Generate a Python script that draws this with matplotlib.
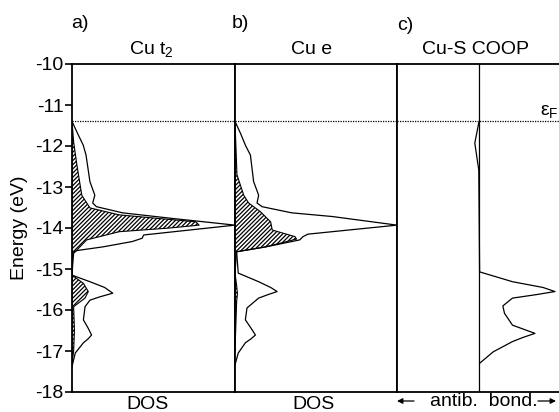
import numpy as np
import matplotlib
matplotlib.use("Agg")
import matplotlib.pyplot as plt

plt.rcParams['font.family'] = ['Liberation Sans', 'DejaVu Sans']
plt.rcParams['mathtext.fontset'] = 'custom'
plt.rcParams['mathtext.rm'] = 'Liberation Sans'
plt.rcParams['mathtext.it'] = 'Liberation Sans:italic'
plt.rcParams['hatch.linewidth'] = 0.9

# energy levels (eV) and curves
e_fermi = -11.4

# panel a: total DOS and Cu t2 projection
a_tot_e = [-11.40, -11.70, -11.98, -12.22, -12.87, -13.20, -13.39, -13.48, -13.63, -13.76,
           -13.93, -14.17, -14.25, -14.33, -14.46, -14.55, -14.61, -15.15, -15.31, -15.45,
           -15.59, -15.68, -15.76, -15.92, -16.24, -16.45, -16.61, -16.70, -16.80, -17.05, -17.38]
a_tot_x = [0.0, 0.035, 0.069, 0.086, 0.11, 0.14, 0.127, 0.15, 0.31, 0.60,
           1.00, 0.44, 0.43, 0.37, 0.19, 0.03, 0.0, 0.0, 0.11, 0.20,
           0.25, 0.17, 0.11, 0.08, 0.07, 0.10, 0.12, 0.10, 0.07, 0.02, 0.0]
a_t2_e = [-11.40, -11.90, -12.46, -13.20, -13.51, -13.68, -13.85, -13.93, -14.00, -14.09,
          -14.29, -14.62, -15.15, -15.35, -15.55, -15.71, -15.92, -16.50, -17.00, -17.30]
a_t2_x = [0.0, 0.01, 0.03, 0.06, 0.11, 0.29, 0.76, 0.78, 0.60, 0.29,
          0.09, 0.01, 0.0, 0.07, 0.10, 0.08, 0.01, 0.015, 0.01, 0.0]

# panel b: total DOS and Cu e projection
b_tot_e = [-11.40, -11.70, -11.98, -12.22, -12.87, -13.20, -13.39, -13.48, -13.63, -13.72,
           -13.93, -14.15, -14.21, -14.29, -14.46, -14.58, -15.10, -15.31, -15.45, -15.55,
           -15.63, -15.71, -15.95, -16.24, -16.45, -16.61, -16.70, -16.80, -17.05, -17.34]
b_tot_x = [0.0, 0.035, 0.064, 0.095, 0.115, 0.146, 0.136, 0.167, 0.35, 0.60,
           1.00, 0.45, 0.42, 0.40, 0.19, 0.01, 0.02, 0.146, 0.22, 0.26,
           0.20, 0.146, 0.074, 0.064, 0.10, 0.126, 0.10, 0.064, 0.02, 0.0]
b_e_e = [-11.40, -12.05, -12.70, -13.20, -13.39, -13.60, -13.85, -14.05, -14.21, -14.27,
         -14.32, -14.46, -14.58, -15.10, -15.40, -15.60, -15.80, -17.00]
b_e_x = [0.0, 0.006, 0.012, 0.054, 0.084, 0.156, 0.22, 0.23, 0.37, 0.38,
         0.33, 0.19, 0.01, 0.0, 0.01, 0.015, 0.01, 0.0]

# panel c: Cu-S overlap population (negative = antibonding)
c_e = [-11.43, -11.93, -12.59, -15.07, -15.31, -15.45, -15.55, -15.63, -15.71, -15.90,
       -16.08, -16.37, -16.57, -16.67, -16.77, -17.02, -17.30]
c_x = [0.0, -0.05, 0.0, 0.01, 0.42, 0.80, 0.95, 0.70, 0.42, 0.30,
       0.32, 0.42, 0.70, 0.55, 0.42, 0.18, 0.01]

W, H = 559, 412
fs = 14
fig = plt.figure(figsize=(W / 100, H / 100), dpi=100)

left, bottom, top = 72, 392, 64
edges = [72, 235, 397, 559]
axes = []
for i in range(3):
    ax = fig.add_axes([edges[i] / W, 1 - bottom / H,
                       (edges[i + 1] - edges[i]) / W, (bottom - top) / H])
    ax.set_ylim(-18, -10)
    ax.set_xticks([])
    for s in ax.spines.values():
        s.set_linewidth(1.3)
    if i > 0:
        ax.tick_params(axis='y', left=False, labelleft=False)
    axes.append(ax)

ax_a, ax_b, ax_c = axes

ax_a.set_yticks(np.arange(-18, -9, 1))
ax_a.set_yticklabels([str(v) for v in range(-18, -9)], fontsize=fs)
ax_a.tick_params(axis='y', direction='out', length=5, width=1.2, pad=1)

# DOS panels
for ax, te, tx, pe, px in [(ax_a, a_tot_e, a_tot_x, a_t2_e, a_t2_x),
                           (ax_b, b_tot_e, b_tot_x, b_e_e, b_e_x)]:
    ax.set_xlim(0, 1)
    ax.fill_betweenx(pe, 0, px, facecolor='white', edgecolor='black',
                     hatch='////////', linewidth=0.8)
    ax.plot(tx, te, color='black', lw=0.9)

# COOP panel
ax_c.set_xlim(-1.02, 1.0)
ax_c.spines['right'].set_visible(False)
ax_c.axvline(0, color='black', lw=0.9)
ax_c.plot(c_x, c_e, color='black', lw=0.9)

for ax in axes:
    ax.axhline(e_fermi, color='black', lw=0.9, ls=(0, (1, 1)))

# labels
fig.text(80 / W, 1 - 24 / H, 'a)', fontsize=fs, ha='center', va='center')
fig.text(240 / W, 1 - 24 / H, 'b)', fontsize=fs, ha='center', va='center')
fig.text(405 / W, 1 - 25 / H, 'c)', fontsize=fs, ha='center', va='center')
fig.text(151 / W, 1 - 49 / H, 'Cu t$_2$', fontsize=fs, ha='center', va='center')
fig.text(312 / W, 1 - 49 / H, 'Cu e', fontsize=fs, ha='center', va='center')
fig.text(476 / W, 1 - 49 / H, 'Cu-S COOP', fontsize=fs, ha='center', va='center')
fig.text(549 / W, 1 - 111 / H, '\u03b5$_\\mathrm{F}$', fontsize=fs, ha='center', va='center')
fig.text(20 / W, 1 - 228 / H, 'Energy (eV)', fontsize=fs, rotation=90,
         ha='center', va='center')
fig.text(147 / W, 1 - 409 / H, 'DOS', fontsize=fs, ha='center', va='baseline')
fig.text(313 / W, 1 - 409 / H, 'DOS', fontsize=fs, ha='center', va='baseline')
fig.text(484 / W, 1 - 406 / H, 'antib.  bond.', fontsize=fs, ha='center', va='baseline')
arrow = dict(arrowstyle='-|>', color='black', lw=0.9, mutation_scale=8,
             shrinkA=0, shrinkB=0)
ax_c.annotate('', xy=(397 / W, 1 - 401 / H), xytext=(414 / W, 1 - 401 / H),
              xycoords='figure fraction', textcoords='figure fraction',
              arrowprops=arrow, annotation_clip=False)
ax_c.annotate('', xy=(556 / W, 1 - 401 / H), xytext=(538 / W, 1 - 401 / H),
              xycoords='figure fraction', textcoords='figure fraction',
              arrowprops=arrow, annotation_clip=False)

fig.savefig('out.png', dpi=100)
